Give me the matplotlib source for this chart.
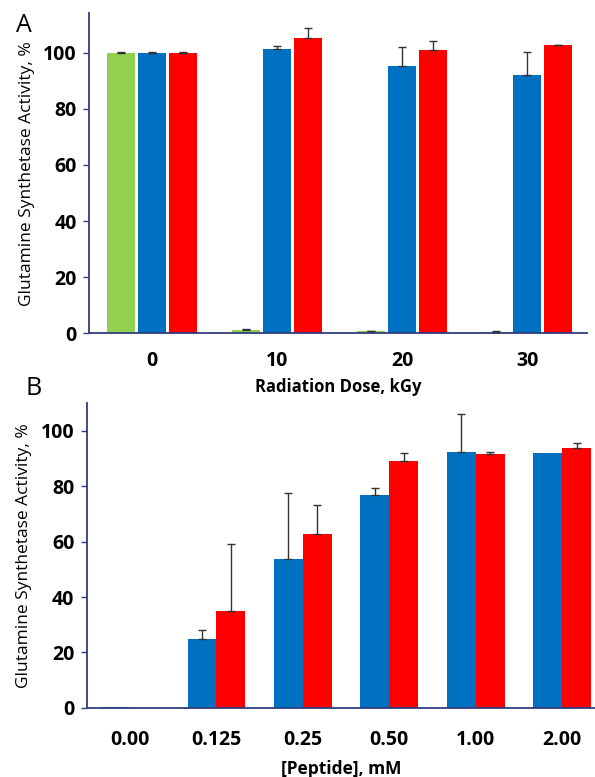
import matplotlib
matplotlib.use("Agg")
import matplotlib.pyplot as plt
import numpy as np

# Panel A data
doses = ["0", "10", "20", "30"]
a_green = [100.0, 1.2, 0.8, 0.5]
a_green_err = [0.2, 0.4, 0.2, 0.2]
a_blue = [100.0, 101.1, 95.1, 92.1]
a_blue_err = [0.2, 1.4, 6.9, 8.0]
a_red = [100.0, 105.2, 100.8, 102.6]
a_red_err = [0.2, 3.6, 3.4, 0.2]

# Panel B data
peptide = ["0.00", "0.125", "0.25", "0.50", "1.00", "2.00"]
b_blue = [0.3, 24.8, 53.9, 76.9, 92.5, 91.9]
b_blue_err = [0.0, 3.4, 23.8, 2.6, 13.8, 0.0]
b_red = [0.0, 35.0, 62.9, 89.1, 91.6, 94.0]
b_red_err = [0.0, 24.2, 10.2, 3.1, 0.9, 1.5]

GREEN = "#92D050"
BLUE = "#0070C0"
RED = "#FF0000"
SPINE = "#2F3C7E"
FONT = "Open Sans"

plt.rcParams['font.family'] = [FONT, 'DejaVu Sans']

fig = plt.figure(figsize=(5.95, 7.77), dpi=100)

def style(ax, xpad):
    for s in ["top", "right"]:
        ax.spines[s].set_visible(False)
    for s in ["left", "bottom"]:
        ax.spines[s].set_color(SPINE)
        ax.spines[s].set_linewidth(1.3)
    ax.tick_params(axis="y", direction="out", length=4, color=SPINE, width=1,
                   labelsize=14, pad=5)
    ax.tick_params(axis="x", length=0, labelsize=14, pad=xpad)
    for lab in ax.get_xticklabels() + ax.get_yticklabels():
        lab.set_fontweight("bold")

ekw = dict(ecolor="#333333", elinewidth=1.0, capsize=3, capthick=1.0)

# Panel A
axA = fig.add_axes([0.150, 0.571, 0.837, 0.412])
x = np.arange(len(doses))
w = 0.224
step = 0.249
for off, vals, errs, c in [(-step, a_green, a_green_err, GREEN),
                           (0, a_blue, a_blue_err, BLUE),
                           (step, a_red, a_red_err, RED)]:
    axA.bar(x + off, vals, width=w, color=c, edgecolor="none", zorder=2)
    axA.errorbar(x + off, vals, yerr=[np.zeros(len(errs)), errs], fmt="none", zorder=3, **ekw)
axA.set_xlim(-0.5, 3.48)
axA.set_ylim(0, 114)
axA.set_yticks([0, 20, 40, 60, 80, 100])
axA.set_xticks(x)
axA.set_xticklabels(doses)
style(axA, 13)
axA.set_ylabel("Glutamine Synthetase Activity, %", fontsize=12.5, labelpad=6)
axA.set_xlabel("Radiation Dose, kGy", fontsize=12, fontweight="bold", labelpad=5)
fig.text(0.040, 0.967, "A", fontsize=18, ha="center", va="center")

# Panel B
axB = fig.add_axes([0.146, 0.089, 0.854, 0.392])
xb = np.arange(len(peptide))
wb = 0.335
for off, vals, errs, c in [(-wb / 2, b_blue, b_blue_err, BLUE),
                           (wb / 2, b_red, b_red_err, RED)]:
    axB.bar(xb + off, vals, width=wb, color=c, edgecolor="none", zorder=2)
    e = np.array(errs)
    mask = e > 0
    axB.errorbar((xb + off)[mask], np.array(vals)[mask], yerr=[np.zeros(mask.sum()), e[mask]],
                 fmt="none", zorder=3, **ekw)
axB.set_xlim(-0.5, 5.38)
axB.set_ylim(0, 110)
axB.set_yticks([0, 20, 40, 60, 80, 100])
axB.set_xticks(xb)
axB.set_xticklabels(peptide)
style(axB, 16)
axB.set_ylabel("Glutamine Synthetase Activity, %", fontsize=12.5, labelpad=6)
axB.set_xlabel("[Peptide], mM", fontsize=12.5, fontweight="bold", labelpad=7)
fig.text(0.057, 0.500, "B", fontsize=18, ha="center", va="center")

fig.savefig("out.png", dpi=100)
